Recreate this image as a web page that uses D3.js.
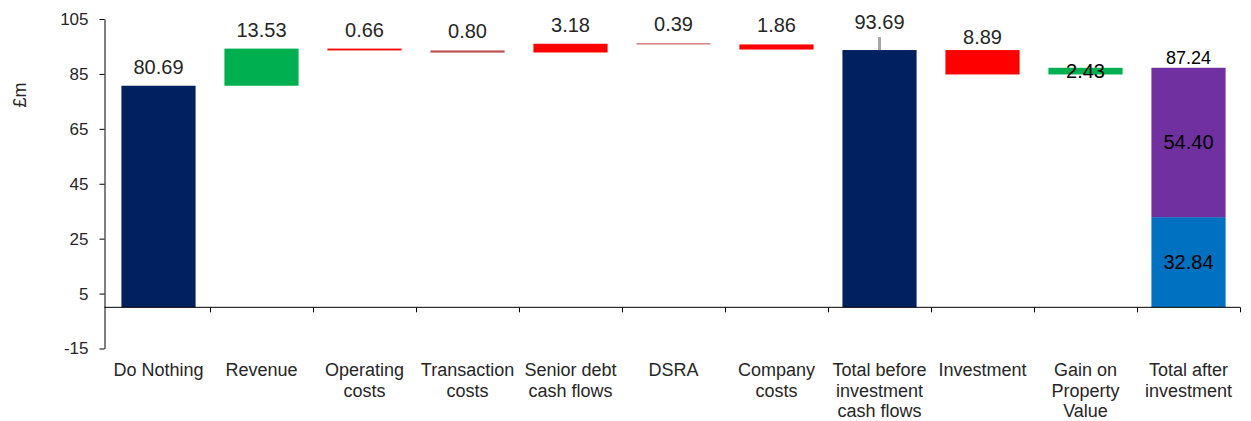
<!DOCTYPE html>
<html lang="en">
<head>
<meta charset="UTF-8">
<script src="https://d3js.org/d3.v7.min.js"></script>
<style>
  body { margin: 0; background: #fff; }
  text { font-family: "Liberation Sans", Arial, sans-serif; fill: #262626; }
</style>
</head>
<body>
<svg id="chart" width="1251" height="421"></svg>
<script>
// categories (multi-line labels)
const categories = [
  ["Do Nothing"], ["Revenue"], ["Operating", "costs"], ["Transaction", "costs"],
  ["Senior debt", "cash flows"], ["DSRA"], ["Company", "costs"],
  ["Total before", "investment", "cash flows"], ["Investment"],
  ["Gain on", "Property", "Value"], ["Total after", "investment"]
];
// where each bar starts and its size
const barStart = [0, 80.69, 93.56, 92.76, 92.80, 95.75, 93.88, 0, 84.80, 84.80, 0];
const barSize  = [80.69, 13.53, 0.66, 0.80, 3.18, 0.39, 1.86, 93.69, 8.89, 2.43, 87.24];
// last bar is split in two parts
const splitParts = [32.84, 54.40];
const yTicks = [105, 85, 65, 45, 25, 5, -15];

const colors = ["#002060", "#00B050", "#FF0000", "#C0504D", "#FF0000", "#C0504D",
                "#FF0000", "#002060", "#FF0000", "#00B050", null];
const splitColors = ["#0070C0", "#7030A0"];

const svg = d3.select("#chart");
const axisX = 104.5;

const y = d3.scaleLinear().domain([-15, 105]).range([348.5, 19]);
const x = d3.scaleBand()
  .domain(d3.range(categories.length))
  .range([107, 1240])
  .paddingInner(0.28)
  .paddingOuter(0.14);

// y axis
const yAxis = svg.append("g")
  .attr("transform", `translate(${axisX},0)`)
  .call(d3.axisLeft(y).tickValues(yTicks).tickFormat(d => String(d))
    .tickSize(5).tickSizeOuter(0).tickPadding(11));
yAxis.selectAll("text").style("font-size", "17px").attr("fill", "#262626");
yAxis.selectAll("line, path").attr("stroke", "#000");

svg.append("text")
  .attr("transform", `translate(26,95) rotate(-90)`)
  .attr("text-anchor", "middle")
  .style("font-size", "18px")
  .text("£m");

// bars
const idx = d3.range(categories.length - 1);
svg.selectAll(".bar")
  .data(idx)
  .enter().append("rect")
  .attr("class", "bar")
  .attr("x", i => x(i))
  .attr("width", x.bandwidth())
  .attr("y", i => y(barStart[i] + barSize[i]))
  .attr("height", i => y(barStart[i]) - y(barStart[i] + barSize[i]))
  .attr("fill", i => colors[i]);

// stacked last bar
const last = categories.length - 1;
let acc = 0;
const stack = splitParts.map(v => { const s = { from: acc, to: acc + v, v }; acc += v; return s; });
svg.selectAll(".split")
  .data(stack)
  .enter().append("rect")
  .attr("x", x(last))
  .attr("width", x.bandwidth())
  .attr("y", d => y(d.to))
  .attr("height", d => y(d.from) - y(d.to))
  .attr("fill", (d, i) => splitColors[i]);

svg.selectAll(".splitLabel")
  .data(stack)
  .enter().append("text")
  .attr("x", x(last) + x.bandwidth() / 2)
  .attr("y", d => (y(d.from) + y(d.to)) / 2 + 7)
  .attr("text-anchor", "middle")
  .style("font-size", "20px")
  .style("fill", "#000")
  .text(d => d.v.toFixed(2));

// x axis along zero
svg.append("line")
  .attr("x1", axisX).attr("x2", x.range()[1])
  .attr("y1", y(0)).attr("y2", y(0))
  .attr("stroke", "#000");
const half = x.step() * x.paddingInner() / 2;
svg.selectAll(".xtick")
  .data(d3.range(categories.length))
  .enter().append("line")
  .attr("x1", i => Math.round(x(i) + x.bandwidth() + half) + 0.5)
  .attr("x2", i => Math.round(x(i) + x.bandwidth() + half) + 0.5)
  .attr("y1", y(0)).attr("y2", y(0) + 5)
  .attr("stroke", "#000");

// category labels
const cat = svg.selectAll(".cat")
  .data(categories)
  .enter().append("text")
  .attr("text-anchor", "middle")
  .style("font-size", "18px");
cat.selectAll("tspan")
  .data((d, i) => d.map(t => ({ t, i })))
  .enter().append("tspan")
  .attr("x", d => x(d.i) + x.bandwidth() / 2)
  .attr("y", (d, j) => 376 + j * 20.5)
  .text(d => d.t);

// value labels: gap between bar top and text baseline
const gap = i => i === 7 ? 21 : i === 8 ? 6 : 12;
svg.selectAll(".val")
  .data(idx)
  .enter().append("text")
  .attr("x", i => x(i) + x.bandwidth() / 2)
  .attr("y", i => i === 9 ? (y(barStart[i]) + y(barStart[i] + barSize[i])) / 2 + 7
                          : y(barStart[i] + barSize[i]) - gap(i))
  .attr("text-anchor", "middle")
  .style("font-size", "20px")
  .style("fill", i => i === 9 ? "#000" : "#262626")
  .text(i => barSize[i].toFixed(2));

// small leader above the total before investment bar
svg.append("line")
  .attr("x1", x(7) + x.bandwidth() / 2).attr("x2", x(7) + x.bandwidth() / 2)
  .attr("y1", y(barSize[7])).attr("y2", y(barSize[7]) - 13)
  .attr("stroke", "#A6A6A6").attr("stroke-width", 3);

// total after investment label
svg.append("text")
  .attr("x", x(last) + x.bandwidth() / 2)
  .attr("y", y(barSize[last]) - 4)
  .attr("text-anchor", "middle")
  .style("font-size", "18px")
  .style("fill", "#000")
  .text(barSize[last].toFixed(2));
</script>
</body>
</html>
